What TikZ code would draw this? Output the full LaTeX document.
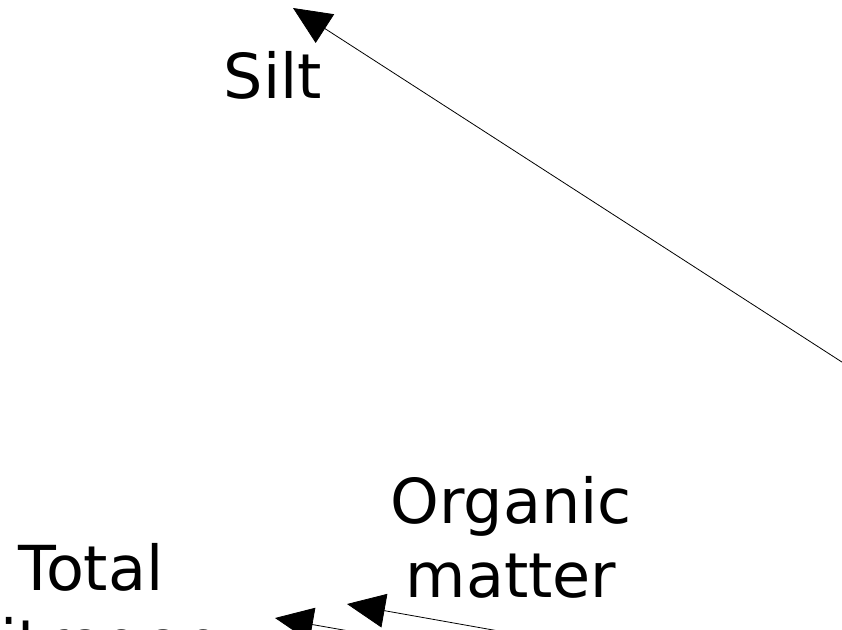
\documentclass[tikz,border=0pt]{standalone}
\usepackage{fontspec}
\setmainfont{DejaVu Sans}
\usetikzlibrary{arrows.meta}
\begin{document}
\begin{tikzpicture}[x=1pt, y=-1pt,
        lbl/.style={font=\fontsize{62}{74}\selectfont, align=center, inner sep=0pt, anchor=base},
        arr/.style={line width=0.8pt, -{Triangle[length=38pt, width=34pt]}}]
        \useasboundingbox (0, 0) rectangle (842, 629);
        \clip (0, 0) rectangle (842, 629);
        \node[lbl] (silt) at (273, 98) {Silt};
        \node[lbl] (om) at (511, 597) {Organic\\matter};
        \node[lbl] (tn) at (91, 664) {Total\\nitrogen};
        \coordinate (siltin) at (293, 8);
        \coordinate (siltout) at (900, 399.5);
        \coordinate (omin) at (347, 604);
        \coordinate (omout) at (600, 649);
        \coordinate (tnin) at (275, 618);
        \coordinate (tnout) at (600, 675);
        \draw[arr] (siltout) -- (siltin);
        \draw[arr] (omout) -- (omin);
        \draw[arr] (tnout) -- (tnin);
\end{tikzpicture}
\end{document}
